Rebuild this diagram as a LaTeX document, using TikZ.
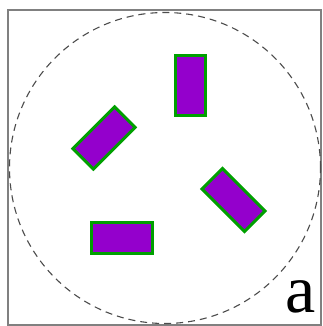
\documentclass[tikz,border=0pt]{standalone}
\usepackage{fontspec}
\setmainfont{Liberation Serif}
\definecolor{boxfill}{HTML}{9400CC}
\definecolor{boxline}{HTML}{00A000}
\definecolor{frame}{HTML}{808080}
\tikzset{
  bar/.style={draw=boxline, fill=boxfill, line width=3pt, rectangle, inner sep=0pt},
}
\begin{document}
\begin{tikzpicture}[x=1pt,y=-1pt]
\useasboundingbox (0,0) rectangle (322,326);
\fill[white] (0,0) rectangle (322,326);
\draw[frame, line width=2pt] (7.5,10.5) rectangle (321,325);
\node[circle, draw=black!70, dash pattern=on 7pt off 5pt, line width=1.1pt, minimum size=311pt, inner sep=0pt] (c) at (165,168) {};
\node[bar, minimum width=30pt, minimum height=60pt] (r1) at (190.5,85.5) {};
\node[bar, minimum width=59pt, minimum height=29pt, rotate=45] (r2) at (104,138) {};
\node[bar, minimum width=60pt, minimum height=29pt, rotate=-45] (r3) at (233.5,200) {};
\node[bar, minimum width=61pt, minimum height=31pt] (r4) at (122,238) {};
\node[anchor=base, inner sep=0pt, font=\fontsize{68}{68}\selectfont] (lab) at (300.5,312) {a};
\end{tikzpicture}
\end{document}
